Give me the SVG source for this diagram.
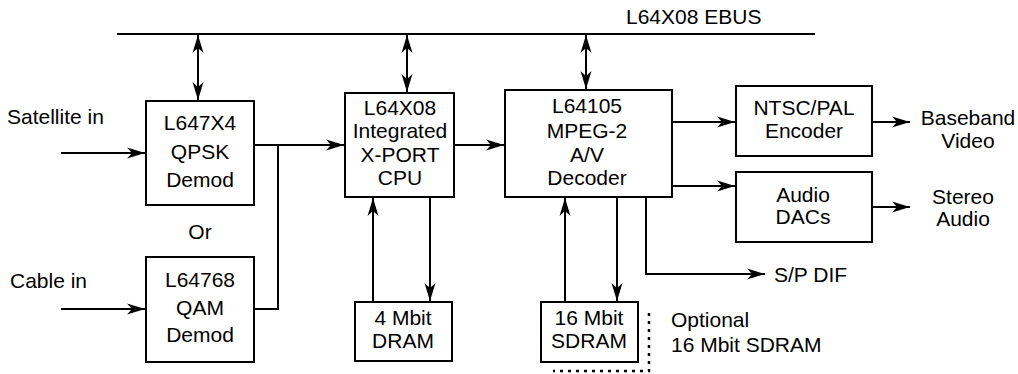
<svg xmlns="http://www.w3.org/2000/svg" width="1018" height="374" viewBox="0 0 1018 374">
<style>
.box{fill:#fff;stroke:#000;stroke-width:2}
.ln{fill:none;stroke:#000;stroke-width:2}
.t{font-family:"Liberation Sans",Arial,sans-serif;font-size:21px;fill:#000}
.c{text-anchor:middle}
.dot{fill:none;stroke:#000;stroke-width:2.5;stroke-dasharray:3 5}
</style>
<defs>
<marker id="ah" markerWidth="18" markerHeight="12" refX="18" refY="6" orient="auto" markerUnits="userSpaceOnUse">
<path d="M0,0.5 L18,6 L0,11.5 L5,6 Z" fill="#000"/>
</marker>
<marker id="as" markerWidth="18" markerHeight="12" refX="0" refY="6" orient="auto" markerUnits="userSpaceOnUse">
<path d="M18,0.5 L0,6 L18,11.5 L13,6 Z" fill="#000"/>
</marker>
</defs>
<rect width="1018" height="374" fill="#fff"/>

<g id="bus">
<line class="ln" x1="117" y1="34" x2="815" y2="34"/>
<text class="t" x="626" y="24">L64X08 EBUS</text>
</g>

<g id="connectors">
<line class="ln" x1="198" y1="35" x2="198" y2="100" marker-start="url(#as)" marker-end="url(#ah)"/>
<line class="ln" x1="407" y1="35" x2="407" y2="92" marker-start="url(#as)" marker-end="url(#ah)"/>
<line class="ln" x1="586" y1="35" x2="586" y2="89" marker-start="url(#as)" marker-end="url(#ah)"/>
<line class="ln" x1="61" y1="153" x2="145" y2="153" marker-end="url(#ah)"/>
<line class="ln" x1="61" y1="309" x2="145" y2="309" marker-end="url(#ah)"/>
<polyline class="ln" points="254,309 278,309 278,145"/>
<line class="ln" x1="254" y1="145" x2="344" y2="145" marker-end="url(#ah)"/>
<line class="ln" x1="454" y1="145" x2="504" y2="145" marker-end="url(#ah)"/>
<line class="ln" x1="672" y1="122" x2="735" y2="122" marker-end="url(#ah)"/>
<line class="ln" x1="672" y1="186" x2="735" y2="186" marker-end="url(#ah)"/>
<line class="ln" x1="872" y1="122" x2="910" y2="122" marker-end="url(#ah)"/>
<line class="ln" x1="872" y1="207" x2="910" y2="207" marker-end="url(#ah)"/>
<polyline class="ln" points="646,197 646,274 765,274" marker-end="url(#ah)"/>
<line class="ln" x1="373" y1="302" x2="373" y2="198" marker-end="url(#ah)"/>
<line class="ln" x1="430" y1="197" x2="430" y2="301" marker-end="url(#ah)"/>
<line class="ln" x1="565" y1="302" x2="565" y2="198" marker-end="url(#ah)"/>
<line class="ln" x1="617" y1="197" x2="617" y2="301" marker-end="url(#ah)"/>
<polyline class="dot" points="649,313 649,371 553,371"/>
</g>

<g id="qpsk">
<rect class="box" x="146" y="101" width="108" height="104"/>
<text class="t c" x="200" y="130">L647X4</text>
<text class="t c" x="200" y="159">QPSK</text>
<text class="t c" x="200" y="187">Demod</text>
</g>
<g id="qam">
<rect class="box" x="146" y="257" width="108" height="105"/>
<text class="t c" x="200" y="287">L64768</text>
<text class="t c" x="200" y="315">QAM</text>
<text class="t c" x="200" y="342">Demod</text>
</g>
<g id="cpu">
<rect class="box" x="345" y="93" width="109" height="104"/>
<text class="t c" x="400" y="115">L64X08</text>
<text class="t c" x="400" y="138">Integrated</text>
<text class="t c" x="400" y="162">X-PORT</text>
<text class="t c" x="400" y="185">CPU</text>
</g>
<g id="decoder">
<rect class="box" x="505" y="90" width="167" height="107"/>
<text class="t c" x="587" y="113">L64105</text>
<text class="t c" x="587" y="138">MPEG-2</text>
<text class="t c" x="587" y="162">A/V</text>
<text class="t c" x="587" y="185">Decoder</text>
</g>
<g id="ntsc">
<rect class="box" x="736" y="86" width="136" height="70"/>
<text class="t c" x="804" y="115">NTSC/PAL</text>
<text class="t c" x="804" y="138">Encoder</text>
</g>
<g id="dacs">
<rect class="box" x="736" y="172" width="136" height="70"/>
<text class="t c" x="803" y="202">Audio</text>
<text class="t c" x="803" y="224">DACs</text>
</g>
<g id="dram">
<rect class="box" x="355" y="302" width="97" height="59"/>
<text class="t c" x="403" y="325">4 Mbit</text>
<text class="t c" x="403" y="348">DRAM</text>
</g>
<g id="sdram">
<rect class="box" x="541" y="302" width="97" height="60"/>
<text class="t c" x="589" y="325">16 Mbit</text>
<text class="t c" x="589" y="348">SDRAM</text>
</g>

<g id="labels">
<text class="t" x="7" y="124">Satellite in</text>
<text class="t" x="10" y="288">Cable in</text>
<text class="t c" x="200" y="239">Or</text>
<text class="t c" x="968" y="125">Baseband</text>
<text class="t c" x="968" y="148">Video</text>
<text class="t c" x="963" y="204">Stereo</text>
<text class="t c" x="963" y="226">Audio</text>
<text class="t" x="774" y="282">S/P DIF</text>
<text class="t" x="671" y="327">Optional</text>
<text class="t" x="671" y="352">16 Mbit SDRAM</text>
</g>
</svg>
